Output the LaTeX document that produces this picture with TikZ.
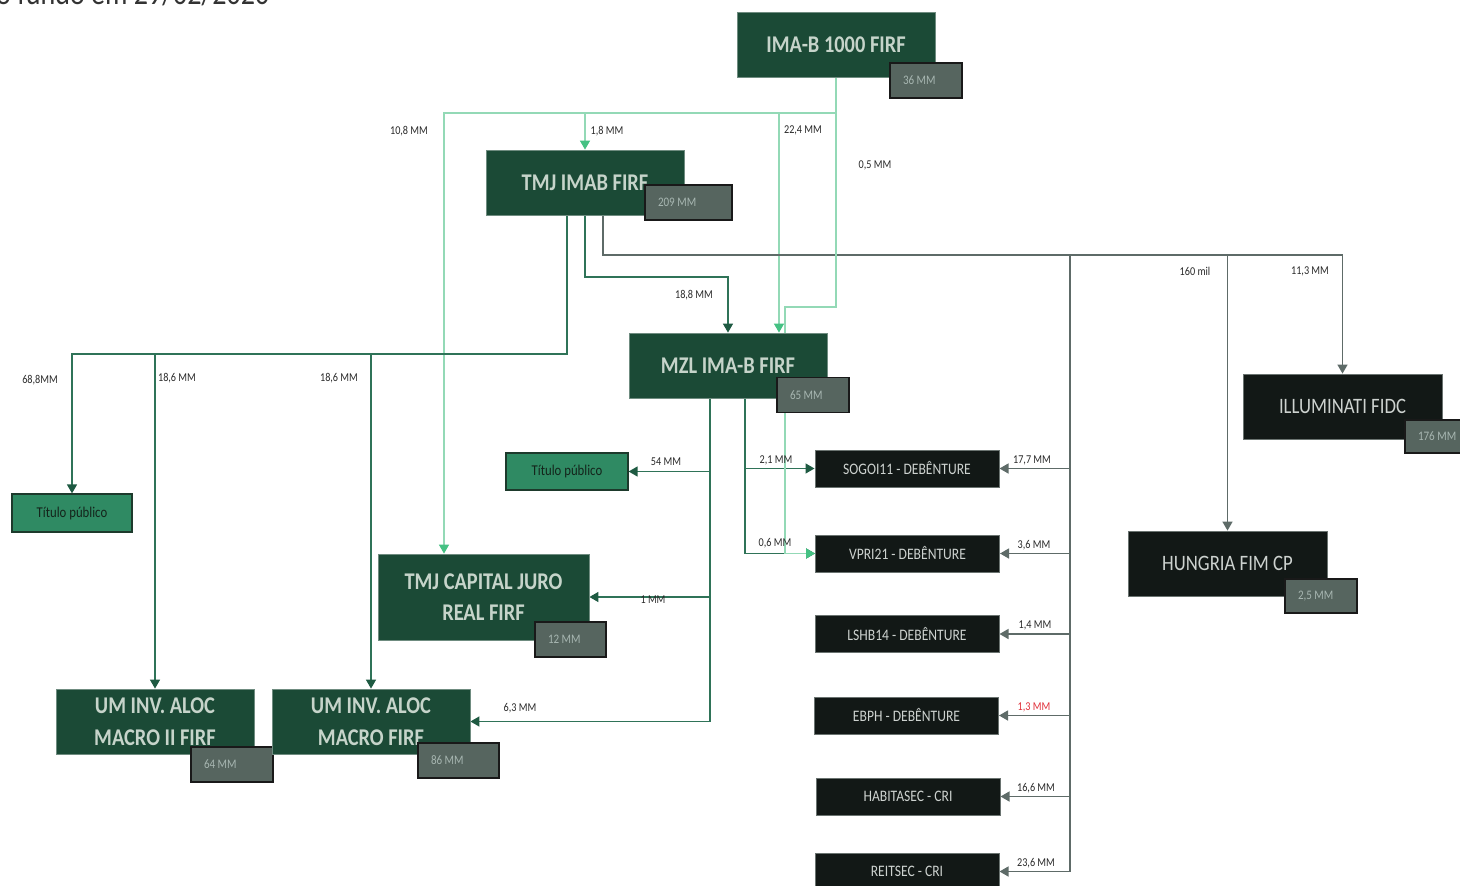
\documentclass[tikz,border=0pt]{standalone}
\usepackage{fontspec}
\setmainfont{Carlito}[FakeStretch=0.85]
\usetikzlibrary{arrows.meta,calc}
\pgfdeclarelayer{back}
\pgfdeclarelayer{bg}
\pgfsetlayers{back,bg,main}
\definecolor{fundgreen}{HTML}{1B4A36}
\definecolor{fundline}{HTML}{6F8C80}
\definecolor{fundtext}{HTML}{C6D4CA}
\definecolor{valgrey}{HTML}{56655F}
\definecolor{valtext}{HTML}{A7B6B1}
\definecolor{debfill}{HTML}{121816}
\definecolor{debline}{HTML}{6A7370}
\definecolor{debtext}{HTML}{CDD2CF}
\definecolor{titfill}{HTML}{2F8A63}
\definecolor{titline}{HTML}{1D3A2C}
\definecolor{tittext}{HTML}{14241B}
\definecolor{lbltext}{HTML}{2A2A2A}
\definecolor{dkline}{HTML}{2F7358}
\definecolor{dkarrow}{HTML}{1E5A42}
\definecolor{ltline}{HTML}{93D9B6}
\definecolor{ltarrow}{HTML}{45C183}
\definecolor{gyline}{HTML}{5E6B68}
\definecolor{redlbl}{HTML}{E0303A}
\definecolor{titlegrey}{HTML}{333333}
\begin{document}
\begin{tikzpicture}[x=1pt,y=-1pt,
  fund/.style={draw=fundline, line width=0.8pt, fill=fundgreen, text=fundtext,
    minimum width=198pt, minimum height=65pt, inner sep=0pt, align=center,
    font=\fontsize{24}{32}\selectfont\bfseries},
  blk/.style={draw=debline, line width=0.8pt, fill=debfill, text=debtext,
    minimum width=199pt, minimum height=65pt, inner sep=0pt,
    font=\fontsize{22}{26}\selectfont},
  val/.style={draw=black!90, line width=1.6pt, fill=valgrey, text=valtext,
    minimum height=35pt, inner xsep=13pt, inner ysep=0pt, align=flush left,
    font=\fontsize{13}{15}\selectfont},
  deb/.style={draw=debline, line width=1pt, fill=debfill, text=debtext,
    minimum width=184pt, minimum height=37pt, inner sep=0pt,
    font=\fontsize{16}{19}\selectfont},
  tit/.style={draw=titline, line width=1.2pt, fill=titfill, text=tittext,
    minimum height=38pt, inner sep=0pt, font=\fontsize{15}{18}\selectfont},
  lbl/.style={font=\fontsize{12}{14}\selectfont, text=lbltext, inner sep=0pt},
  dk/.style={line width=1.4pt, draw=dkline, -{Triangle[width=10pt,length=9pt,color=dkarrow]}},
  lt/.style={line width=1.4pt, draw=ltline, -{Triangle[width=10pt,length=9pt,color=ltarrow]}},
  gy/.style={line width=1.4pt, draw=gyline, -{Triangle[width=10pt,length=9pt,color=gyline]}}
]
\useasboundingbox (0,0) rectangle (1460,886);
\begin{pgfonlayer}{back}
\fill[white] (0,0) rectangle (1460,886);
\end{pgfonlayer}
\clip (0,0) rectangle (1460,886);

\node[anchor=base west, font=\fontsize{33}{40}\selectfont, text=titlegrey, inner sep=0pt] (title) at (-4,5) {o fundo em 29/02/2020};

% funds
\node[fund] (imab) at (836,44.5) {IMA-B 1000 FIRF};
\node[val, text width=46pt] (imabv) at (926,80.5) {36 MM};
\node[fund] (tmj) at (585,182.5) {TMJ IMAB FIRF};
\node[val, text width=61pt] (tmjv) at (688.5,202.5) {209 MM};
\node[fund] (mzl) at (728,365.5) {MZL IMA-B FIRF};
\node[val, text width=46pt] (mzlv) at (813,395) {65 MM};
\node[blk] (illu) at (1342.5,406.5) {ILLUMINATI FIDC};
\node[val, text width=46pt, minimum height=33pt] (illuv) at (1441,436.5) {176 MM};
\node[blk] (hung) at (1227.5,563.5) {HUNGRIA FIM CP};
\node[val, text width=46pt, minimum height=34pt] (hungv) at (1321,596) {2,5 MM};
\node[fund, minimum width=211pt, minimum height=86pt, font=\fontsize{24}{31}\selectfont\bfseries] (tmjcap) at (483.5,597) {TMJ CAPITAL JURO\\REAL FIRF};
\node[val, text width=45pt] (tmjcapv) at (570.5,639.5) {12 MM};
\node[fund] (um2) at (155,721.5) {UM INV. ALOC\\MACRO II FIRF};
\node[val, text width=56pt] (um2v) at (232,764.5) {64 MM};
\node[fund] (um1) at (371,721.5) {UM INV. ALOC\\MACRO FIRF};
\node[val, text width=55pt] (um1v) at (458.5,760.5) {86 MM};

\node[tit, minimum width=120pt] (tit1) at (72,513) {Título público};
\node[tit, minimum width=122pt, minimum height=37pt] (tit2) at (567,471.5) {Título público};

\node[deb] (sogo) at (907,468.5) {SOGOI11 - DEBÊNTURE};
\node[deb] (vpri) at (907.5,553.5) {VPRI21 - DEBÊNTURE};
\node[deb] (lshb) at (907,634) {LSHB14 - DEBÊNTURE};
\node[deb] (ebph) at (906.5,715.5) {EBPH - DEBÊNTURE};
\node[deb] (habi) at (908,796.5) {HABITASEC - CRI};
\node[deb] (reit) at (907,871.5) {REITSEC - CRI};

\begin{pgfonlayer}{bg}
% from IMA-B 1000
\draw[lt] (imab.south) -- (836,113) -| ([xshift=-39.5pt]tmjcap.north);
\draw[lt] (imab.south) -- (836,113) -| (tmj.north);
\draw[lt] (imab.south) -- (836,113) -| ([xshift=51pt]mzl.north);
% from TMJ IMAB
\draw[dk] ([xshift=-18pt]tmj.south) -- (567,354) -| (tit1.north);
\draw[dk] ([xshift=-18pt]tmj.south) -- (567,354) -| (um2.north);
\draw[dk] ([xshift=-18pt]tmj.south) -- (567,354) -| (um1.north);
\draw[dk] (tmj.south) -- (585,277) -| (mzl.north);
\draw[gy] ([xshift=18pt]tmj.south) |- (1342.5,255) -- (illu.north);
\draw[gy] ([xshift=18pt]tmj.south) |- (1227.5,255) -- (hung.north);
\draw[gy] ([xshift=18pt]tmj.south) |- (1070,255) |- (sogo.east);
\draw[gy] ([xshift=18pt]tmj.south) |- (1070,255) |- (vpri.east);
\draw[gy] ([xshift=18pt]tmj.south) |- (1070,255) |- (lshb.east);
\draw[gy] ([xshift=18pt]tmj.south) |- (1070,255) |- (ebph.east);
\draw[gy] ([xshift=18pt]tmj.south) |- (1070,255) |- (habi.east);
\draw[gy] ([xshift=18pt]tmj.south) |- (1070,255) |- (reit.east);
% from MZL
\draw[dk] ([xshift=-18pt]mzl.south) |- (tit2.east);
\draw[dk] ([xshift=-18pt]mzl.south) |- (tmjcap.east);
\draw[dk] ([xshift=-18pt]mzl.south) |- (um1.east);
\draw[dk] ([xshift=17pt]mzl.south) |- (sogo.west);
\draw[dk] ([xshift=17pt]mzl.south) |- (vpri.west);
% 0,5 MM from IMA-B 1000 to VPRI21
\draw[lt] (imab.south) -- (836,307) -- (785,307) |- (vpri.west);
\end{pgfonlayer}

% labels
\node[lbl] (l1) at (409,131) {10,8 MM};
\node[lbl] (l2) at (607,131) {1,8 MM};
\node[lbl] (l3) at (803,130) {22,4 MM};
\node[lbl] (l4) at (875,165) {0,5 MM};
\node[lbl] (l5) at (40,380) {68,8MM};
\node[lbl] (l6) at (177,378) {18,6 MM};
\node[lbl] (l7) at (339,378) {18,6 MM};
\node[lbl] (l8) at (694,295) {18,8 MM};
\node[lbl] (l9) at (1195,271) {160 mil};
\node[lbl] (l10) at (1310,271) {11,3 MM};
\node[lbl] (l11) at (666,462) {54 MM};
\node[lbl] (l12) at (776,460) {2,1 MM};
\node[lbl] (l13) at (775,543) {0,6 MM};
\node[lbl] (l14) at (653,600) {1 MM};
\node[lbl] (l15) at (520,708) {6,3 MM};
\node[lbl] (l16) at (1032,460) {17,7 MM};
\node[lbl] (l17) at (1034,545) {3,6 MM};
\node[lbl] (l18) at (1035,625) {1,4 MM};
\node[lbl, text=redlbl] (l19) at (1034,707) {1,3 MM};
\node[lbl] (l20) at (1036,788) {16,6 MM};
\node[lbl] (l21) at (1036,863) {23,6 MM};
\end{tikzpicture}
\end{document}
